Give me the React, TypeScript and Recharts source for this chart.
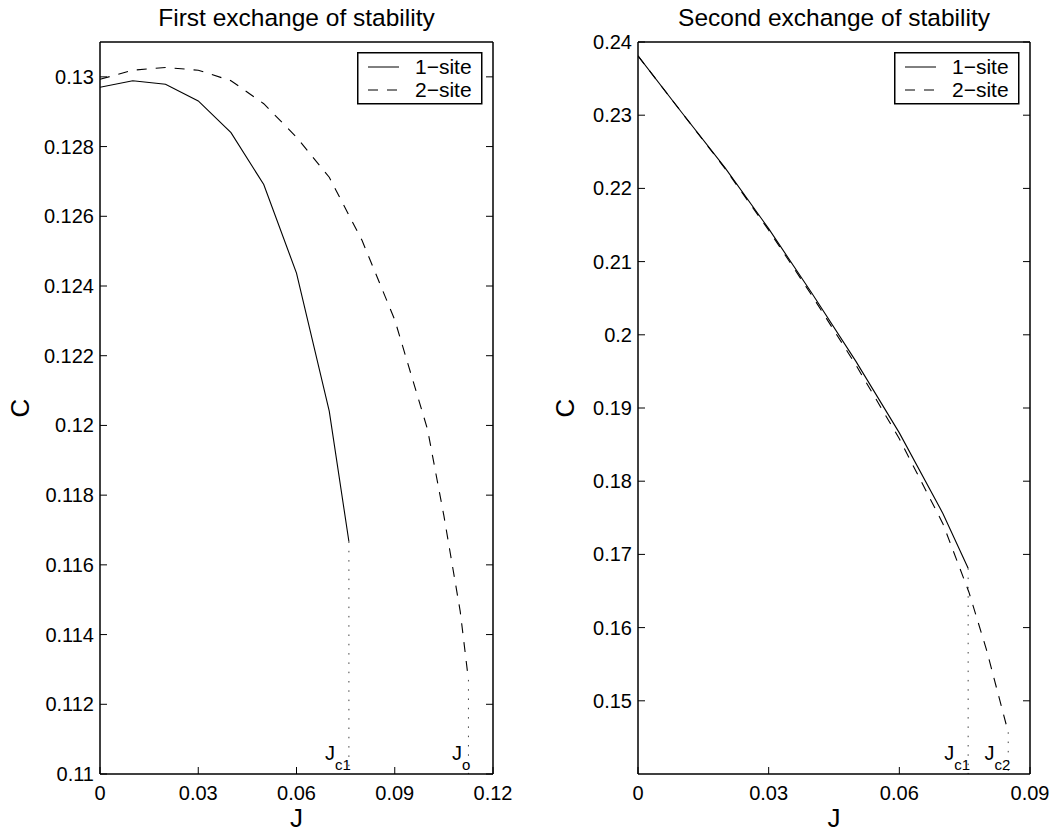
import React from "react";
import { LineChart, Line, XAxis, YAxis } from "recharts";

const FONT = '"Liberation Sans", Arial, Helvetica, sans-serif';

// First exchange of stability (left panel)
const J_FIRST_1SITE = [0, 0.01, 0.02, 0.03, 0.04, 0.05, 0.06, 0.07, 0.076];
const C_FIRST_1SITE = [0.1297, 0.12989, 0.12979, 0.12931, 0.1284, 0.12691, 0.12437, 0.12041, 0.11667];
const J_FIRST_2SITE = [0, 0.01, 0.02, 0.03, 0.04, 0.05, 0.06, 0.07, 0.08, 0.09, 0.1, 0.105, 0.11, 0.1125];
const C_FIRST_2SITE = [0.12993, 0.13019, 0.13027, 0.13019, 0.12989, 0.12923, 0.12827, 0.12712, 0.12531, 0.12303, 0.11989, 0.11741, 0.11466, 0.1127];
const FIRST_X_TICKS = [0, 0.03, 0.06, 0.09, 0.12];
const FIRST_Y_TICKS = [0.11, 0.112, 0.114, 0.116, 0.118, 0.12, 0.122, 0.124, 0.126, 0.128, 0.13];
const FIRST_MARKERS = [
  { j: 0.076, c: 0.11667, sub: "c1" },
  { j: 0.1125, c: 0.1127, sub: "o" },
];

// Second exchange of stability (right panel)
const J_SECOND_1SITE = [0, 0.01, 0.02, 0.03, 0.04, 0.05, 0.06, 0.07, 0.0758];
const C_SECOND_1SITE = [0.2381, 0.2304, 0.2228, 0.2145, 0.2056, 0.1964, 0.1866, 0.1756, 0.1681];
const J_SECOND_2SITE = [0, 0.01, 0.02, 0.03, 0.04, 0.05, 0.06, 0.07, 0.076, 0.08, 0.085];
const C_SECOND_2SITE = [0.2381, 0.2304, 0.2227, 0.2143, 0.2053, 0.1959, 0.1858, 0.1742, 0.1648, 0.157, 0.1457];
const SECOND_X_TICKS = [0, 0.03, 0.06, 0.09];
const SECOND_Y_TICKS = [0.15, 0.16, 0.17, 0.18, 0.19, 0.2, 0.21, 0.22, 0.23, 0.24];
const SECOND_MARKERS = [
  { j: 0.0758, c: 0.1681, sub: "c1" },
  { j: 0.085, c: 0.1457, sub: "c2" },
];

const SERIES_NAMES = ["1\u2212site", "2\u2212site"];
const DASH = "10 9";
const DOT = "1.5 7.8";
const AXIS = { stroke: "#000", strokeWidth: 1.5 };

const fmt = (v: number) => String(Number(v.toFixed(4)));
const pts = (js: number[], cs: number[]) => js.map((j, i) => ({ j, c: cs[i] }));

const BottomTick = (p: any) => (
  <g>
    <line x1={p.x} y1={p.y} x2={p.x} y2={p.y - 7} stroke="#000" />
    <text x={p.x} y={p.y + 26} textAnchor="middle" fontSize={20} fontFamily={FONT} fill="#000">
      {fmt(p.payload.value)}
    </text>
  </g>
);
const TopTick = (p: any) => <line x1={p.x} y1={p.y} x2={p.x} y2={p.y + 7} stroke="#000" />;
const LeftTick = (p: any) => (
  <g>
    <line x1={p.x} y1={p.y} x2={p.x + 7} y2={p.y} stroke="#000" />
    <text x={p.x - 6} y={p.y + 7} textAnchor="end" fontSize={20} fontFamily={FONT} fill="#000">
      {fmt(p.payload.value)}
    </text>
  </g>
);
const RightTick = (p: any) => <line x1={p.x} y1={p.y} x2={p.x - 7} y2={p.y} stroke="#000" />;

function Legend({ x }: { x: number }) {
  return (
    <svg style={{ position: "absolute", left: x, top: 52 }} width={126} height={53}>
      <rect x={0.75} y={0.75} width={124} height={51} fill="#fff" stroke="#000" strokeWidth={1.5} />
      {SERIES_NAMES.map((name, i) => (
        <g key={name}>
          <line x1={11} x2={42} y1={15 + i * 23} y2={15 + i * 23} stroke="#000" strokeDasharray={i ? DASH : undefined} />
          <text x={58} y={22 + i * 23} fontSize={21} fontFamily={FONT} fill="#000">
            {name}
          </text>
        </g>
      ))}
    </svg>
  );
}

function Panel(props: {
  left: number;
  width: number;
  plotLeft: number;
  plotRight: number;
  yTitleX: number;
  legendX: number;
  title: string;
  xDomain: number[];
  xTicks: number[];
  yDomain: number[];
  yTicks: number[];
  j1: number[];
  c1: number[];
  j2: number[];
  c2: number[];
  markers: { j: number; c: number; sub: string }[];
}) {
  const { width, yDomain } = props;
  const plotCenter = (props.plotLeft + props.plotRight) / 2;
  return (
    <div style={{ position: "absolute", left: props.left, top: 0, width, height: 832 }}>
      <svg style={{ position: "absolute", left: 0, top: 0 }} width={width} height={40}>
        <text x={plotCenter} y={26} textAnchor="middle" fontSize={24.5} fontFamily={FONT} fill="#000">
          {props.title}
        </text>
      </svg>
      <LineChart
        width={width}
        height={832}
        margin={{ top: 41, right: width - props.plotRight - 1, bottom: 0, left: 0 }}
        style={{ position: "absolute", left: 0, top: 0 }}
      >
        <XAxis
          xAxisId="b"
          type="number"
          dataKey="j"
          domain={props.xDomain}
          ticks={props.xTicks}
          interval={0}
          height={58}
          tickSize={0}
          tickMargin={0}
          tickLine={false}
          axisLine={AXIS}
          tick={BottomTick}
          allowDataOverflow
          label={(p: any) => {
            const vb = p.viewBox;
            return (
              <text x={vb.x + vb.width / 2} y={vb.y + vb.height - 5} textAnchor="middle" fontSize={26} fontFamily={FONT} fill="#000">
                J
              </text>
            );
          }}
        />
        <XAxis
          xAxisId="t"
          orientation="top"
          type="number"
          domain={props.xDomain}
          ticks={props.xTicks}
          interval={0}
          height={1}
          tickSize={0}
          tickMargin={0}
          tickLine={false}
          axisLine={AXIS}
          tick={TopTick}
          allowDataOverflow
        />
        <YAxis
          yAxisId="l"
          type="number"
          dataKey="c"
          domain={yDomain}
          ticks={props.yTicks}
          interval={0}
          width={props.plotLeft}
          tickSize={0}
          tickMargin={0}
          tickLine={false}
          axisLine={AXIS}
          tick={LeftTick}
          allowDataOverflow
          label={(p: any) => {
            const vb = p.viewBox;
            const cy = vb.y + vb.height / 2;
            return (
              <text
                x={props.yTitleX}
                y={cy}
                transform={`rotate(-90 ${props.yTitleX} ${cy})`}
                textAnchor="middle"
                dominantBaseline="central"
                fontSize={26}
                fontFamily={FONT}
                fill="#000"
              >
                C
              </text>
            );
          }}
        />
        <YAxis
          yAxisId="r"
          orientation="right"
          type="number"
          domain={yDomain}
          ticks={props.yTicks}
          interval={0}
          width={1}
          tickSize={0}
          tickMargin={0}
          tickLine={false}
          axisLine={AXIS}
          tick={RightTick}
          allowDataOverflow
        />
        {props.markers.map((m) => (
          <Line
            key={m.sub}
            xAxisId="b"
            yAxisId="l"
            data={[{ j: m.j, c: m.c }, { j: m.j, c: yDomain[0] }]}
            dataKey="c"
            stroke="#444"
            strokeWidth={1}
            strokeDasharray={DOT}
            isAnimationActive={false}
            legendType="none"
            activeDot={false}
            dot={(d: any) =>
              d.index === 1 ? (
                <text key="lbl" x={d.cx + 2} y={d.cy - 14} textAnchor="end" fontSize={20} fontFamily={FONT} fill="#000">
                  J
                  <tspan dy={10} fontSize={15}>
                    {m.sub}
                  </tspan>
                </text>
              ) : (
                <g key="none" />
              )
            }
          />
        ))}
        <Line
          xAxisId="b"
          yAxisId="l"
          data={pts(props.j1, props.c1)}
          dataKey="c"
          name={SERIES_NAMES[0]}
          stroke="#000"
          strokeWidth={1.1}
          dot={false}
          activeDot={false}
          isAnimationActive={false}
        />
        <Line
          xAxisId="b"
          yAxisId="l"
          data={pts(props.j2, props.c2)}
          dataKey="c"
          name={SERIES_NAMES[1]}
          stroke="#000"
          strokeWidth={1.1}
          strokeDasharray={DASH}
          dot={false}
          activeDot={false}
          isAnimationActive={false}
        />
      </LineChart>
      <Legend x={props.legendX} />
    </div>
  );
}

export default function App() {
  return (
    <div style={{ position: "absolute", left: 0, top: 0, width: 1053, height: 832, background: "#fff", fontFamily: FONT }}>
      <Panel
        left={0}
        width={520}
        plotLeft={100}
        plotRight={493}
        yTitleX={20}
        legendX={357}
        title="First exchange of stability"
        xDomain={[0, 0.12]}
        xTicks={FIRST_X_TICKS}
        yDomain={[0.11, 0.131]}
        yTicks={FIRST_Y_TICKS}
        j1={J_FIRST_1SITE}
        c1={C_FIRST_1SITE}
        j2={J_FIRST_2SITE}
        c2={C_FIRST_2SITE}
        markers={FIRST_MARKERS}
      />
      <Panel
        left={540}
        width={513}
        plotLeft={98}
        plotRight={490}
        yTitleX={25}
        legendX={354}
        title="Second exchange of stability"
        xDomain={[0, 0.09]}
        xTicks={SECOND_X_TICKS}
        yDomain={[0.14, 0.24]}
        yTicks={SECOND_Y_TICKS}
        j1={J_SECOND_1SITE}
        c1={C_SECOND_1SITE}
        j2={J_SECOND_2SITE}
        c2={C_SECOND_2SITE}
        markers={SECOND_MARKERS}
      />
    </div>
  );
}
